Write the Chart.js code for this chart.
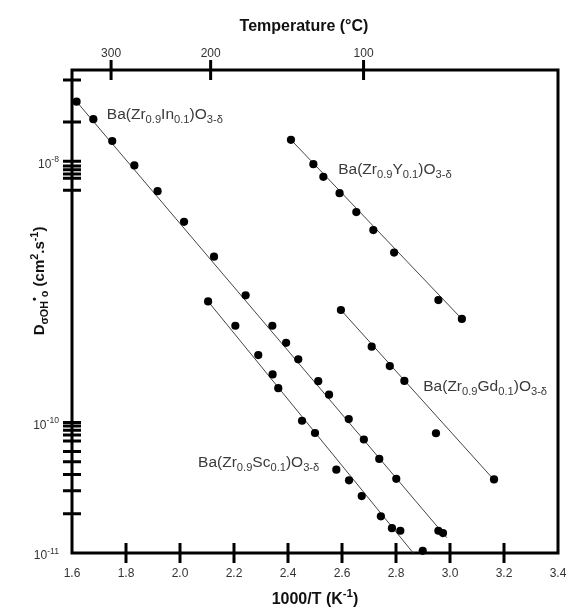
<!DOCTYPE html>
<html>
<head>
<meta charset="utf-8">
<script src="https://cdn.jsdelivr.net/npm/chart.js@4.4.1/dist/chart.umd.min.js"></script>
<style>
  body { margin: 0; background: #fff; }
  canvas { display: block; }
</style>
</head>
<body>
<canvas id="chart" width="568" height="608"></canvas>
<script>
// values (x = 1000/T in K^-1, y = D in cm2/s)
const inX = [1.617, 1.679, 1.749, 1.831, 1.917, 2.015, 2.126, 2.243, 2.342, 2.393, 2.438, 2.512, 2.552, 2.625, 2.681, 2.738, 2.801, 2.957, 2.974];
const inD = [2.86e-8, 2.10e-8, 1.43e-8, 9.3e-9, 5.9e-9, 3.44e-9, 1.86e-9, 9.4e-10, 5.5e-10, 4.07e-10, 3.04e-10, 2.07e-10, 1.63e-10, 1.06e-10, 7.4e-11, 5.25e-11, 3.7e-11, 1.48e-11, 1.42e-11];
const yX = [2.411, 2.494, 2.531, 2.591, 2.653, 2.716, 2.793, 2.957, 3.044];
const yD = [1.46e-8, 9.5e-9, 7.6e-9, 5.7e-9, 4.08e-9, 2.97e-9, 2.0e-9, 8.65e-10, 6.2e-10];
const gdX = [2.596, 2.710, 2.777, 2.831, 2.948, 3.163];
const gdD = [7.26e-10, 3.8e-10, 2.7e-10, 2.08e-10, 8.26e-11, 3.66e-11];
const scX = [2.104, 2.205, 2.290, 2.343, 2.364, 2.452, 2.500, 2.579, 2.626, 2.673, 2.744, 2.785, 2.816, 2.899];
const scD = [8.45e-10, 5.5e-10, 3.28e-10, 2.33e-10, 1.83e-10, 1.03e-10, 8.3e-11, 4.35e-11, 3.6e-11, 2.73e-11, 1.91e-11, 1.55e-11, 1.48e-11, 1.04e-11];

// fitted lines, end points
const inFitX = [1.617, 2.988];
const inFitD = [2.86e-8, 1.31e-11];
const yFitX = [2.411, 3.044];
const yFitD = [1.46e-8, 6.2e-10];
const gdFitX = [2.596, 3.17];
const gdFitD = [7.26e-10, 3.5e-11];
const scFitX = [2.104, 2.864];
const scFitD = [8.45e-10, 1.0e-11];

// axes
const xTicks = [1.6, 1.8, 2.0, 2.2, 2.4, 2.6, 2.8, 3.0, 3.2, 3.4];
const tempTicks = [300, 200, 100];
const yTicks = [4.2e-8, 2e-8, 1e-8, 9.2e-9, 8.6e-9, 8e-9, 7.4e-9, 6e-9,
                1e-10, 9.4e-11, 8.7e-11, 8e-11, 7.2e-11, 6e-11, 5e-11, 4e-11, 3e-11, 2e-11];
const yLabelTicks = [1e-8, 1e-10, 1e-11];
const yLabelExp = ['-8', '-10', '-11'];

const seriesNames = [
  [['Ba(Zr', ''], ['0.9', 'sub'], ['In', ''], ['0.1', 'sub'], [')O', ''], ['3-δ', 'sub']],
  [['Ba(Zr', ''], ['0.9', 'sub'], ['Y', ''], ['0.1', 'sub'], [')O', ''], ['3-δ', 'sub']],
  [['Ba(Zr', ''], ['0.9', 'sub'], ['Gd', ''], ['0.1', 'sub'], [')O', ''], ['3-δ', 'sub']],
  [['Ba(Zr', ''], ['0.9', 'sub'], ['Sc', ''], ['0.1', 'sub'], [')O', ''], ['3-δ', 'sub']]
];
// where each name sits (data coords of left edge / middle)
const nameAt = [[1.729, 2.26e-8], [2.586, 8.57e-9], [2.901, 1.87e-10], [2.067, 4.89e-11]];

const FONT = '"Liberation Sans", Arial, sans-serif';
const pts = (xs, ys) => xs.map((x, i) => ({ x, y: ys[i] }));

function richWidth(ctx, parts, size, bold) {
  let w = 0;
  parts.forEach(([t, k]) => {
    const s = k ? size * 0.72 : size;
    ctx.font = (bold ? 'bold ' : '') + s + 'px ' + FONT;
    w += ctx.measureText(t).width;
  });
  return w;
}

function drawRich(ctx, parts, x, y, size, bold) {
  let cx = x;
  parts.forEach(([t, k]) => {
    const s = k ? size * 0.72 : size;
    ctx.font = (bold ? 'bold ' : '') + s + 'px ' + FONT;
    const dy = k === 'sub' ? size * 0.32 : k === 'sup' ? -size * 0.36 : 0;
    ctx.fillText(t, cx, y + dy);
    cx += ctx.measureText(t).width;
  });
}

const frame = {
  id: 'frame',
  beforeDatasetsDraw(chart) {
    const { ctx, chartArea: a, scales } = chart;
    ctx.save();
    ctx.strokeStyle = '#000';
    ctx.lineWidth = 3;
    ctx.strokeRect(a.left, a.top, a.right - a.left, a.bottom - a.top);

    ctx.beginPath();
    xTicks.slice(1, -1).forEach(v => {
      const px = scales.x.getPixelForValue(v);
      ctx.moveTo(px, a.bottom - 10);
      ctx.lineTo(px, a.bottom + 10);
    });
    tempTicks.forEach(t => {
      const px = scales.xTop.getPixelForValue(1000 / (t + 273.15));
      ctx.moveTo(px, a.top - 10);
      ctx.lineTo(px, a.top + 10);
    });
    yTicks.forEach(v => {
      const py = scales.y.getPixelForValue(v);
      ctx.moveTo(a.left - 9, py);
      ctx.lineTo(a.left + 9, py);
    });
    ctx.stroke();

    // tick labels
    ctx.fillStyle = '#333';
    ctx.font = '12px ' + FONT;
    ctx.textAlign = 'center';
    ctx.textBaseline = 'middle';
    xTicks.forEach(v => {
      ctx.fillText(v.toFixed(1), scales.x.getPixelForValue(v), a.bottom + 21);
    });
    tempTicks.forEach(t => {
      ctx.fillText(String(t), scales.xTop.getPixelForValue(1000 / (t + 273.15)), a.top - 16);
    });
    ctx.textAlign = 'left';
    yLabelTicks.forEach((v, i) => {
      const py = scales.y.getPixelForValue(v);
      const parts = [['10', ''], [yLabelExp[i], 'sup']];
      const w = richWidth(ctx, parts, 12, false);
      drawRich(ctx, parts, a.left - 13 - w, py + 3, 12, false);
    });

    // axis titles
    ctx.fillStyle = '#111';
    ctx.textBaseline = 'middle';
    let parts = [['Temperature (°C)', '']];
    drawRich(ctx, parts, 304 - richWidth(ctx, parts, 16, true) / 2, 27, 16, true);
    parts = [['1000/T (K', ''], ['-1', 'sup'], [')', '']];
    drawRich(ctx, parts, (a.left + a.right) / 2 - richWidth(ctx, parts, 16, true) / 2, 600, 16, true);
    parts = [['D', ''], ['σ', 'sub'], ['OH', 'sub'], ['•', 'sup'], ['o', 'sub'], [' (cm', ''], ['2', 'sup'], ['.s', ''], ['-1', 'sup'], [')', '']];
    ctx.save();
    ctx.translate(40, 281);
    ctx.rotate(-Math.PI / 2);
    drawRich(ctx, parts, -richWidth(ctx, parts, 15, true) / 2, 0, 15, true);
    ctx.restore();

    // series names
    ctx.fillStyle = '#3a3a3a';
    seriesNames.forEach((p, i) => {
      const [vx, vy] = nameAt[i];
      drawRich(ctx, p, scales.x.getPixelForValue(vx), scales.y.getPixelForValue(vy), 15.5, false);
    });
    ctx.restore();
  }
};

const fit = (xs, ys) => ({
  type: 'line', data: pts(xs, ys), borderColor: '#444', borderWidth: 1,
  pointRadius: 0, fill: false, tension: 0, order: 2, xAxisID: 'x', yAxisID: 'y'
});
const dots = (xs, ys) => ({
  type: 'scatter', data: pts(xs, ys), backgroundColor: '#000', borderColor: '#000',
  borderWidth: 0, pointRadius: 4.1, clip: false, order: 1, xAxisID: 'x', yAxisID: 'y'
});

new Chart(document.getElementById('chart'), {
  type: 'scatter',
  data: {
    datasets: [
      fit(inFitX, inFitD), fit(yFitX, yFitD), fit(gdFitX, gdFitD), fit(scFitX, scFitD),
      dots(inX, inD), dots(yX, yD), dots(gdX, gdD), dots(scX, scD)
    ]
  },
  options: {
    responsive: false,
    animation: false,
    layout: { padding: { left: 0, right: 10, top: 0, bottom: 0 } },
    plugins: { legend: { display: false }, tooltip: { enabled: false } },
    scales: {
      x: {
        type: 'linear', position: 'bottom', min: 1.6, max: 3.4,
        grid: { display: false }, border: { display: false }, ticks: { display: false },
        afterFit: s => { s.height = 55; }
      },
      xTop: {
        type: 'linear', position: 'top', min: 1.6, max: 3.4, display: true,
        grid: { display: false }, border: { display: false }, ticks: { display: false },
        afterFit: s => { s.height = 70; }
      },
      y: {
        type: 'logarithmic', min: 1e-11, max: 5e-8,
        grid: { display: false }, border: { display: false }, ticks: { display: false },
        afterFit: s => { s.width = 72; }
      }
    }
  },
  plugins: [frame]
});
</script>
</body>
</html>
